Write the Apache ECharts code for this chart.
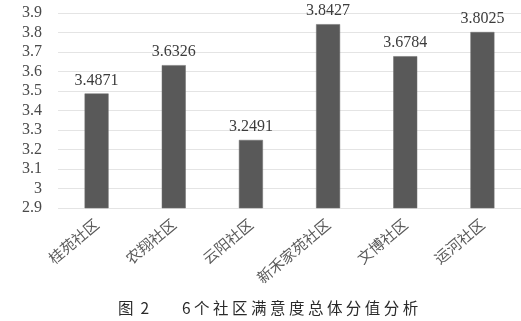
<!DOCTYPE html>
<html><head><meta charset="utf-8">
<script src="https://cdn.jsdelivr.net/npm/echarts@6/dist/echarts.min.js"></script>
<style>html,body{margin:0;padding:0;background:#fff}#c{width:521px;height:321px}</style>
</head><body><div id="c"></div>
<script>
var categories = ['桂苑社区', '农翔社区', '云阳社区', '新禾家苑社区', '文博社区', '运河社区'];
var values = [3.4871, 3.6326, 3.2491, 3.8427, 3.6784, 3.8025];
var yMin = 2.9, yMax = 3.9, yStep = 0.1;
var captionFig = '图  2';
var captionTitle = '6 个 社 区 满 意 度 总 体 分 值 分 析';

var serif = '"Liberation Serif", "Times New Roman", "DejaVu Serif", serif';
var chart = echarts.init(document.getElementById('c'), null, {renderer: 'canvas'});
chart.setOption({
  animation: false,
  backgroundColor: '#fff',
  grid: {left: 58, top: 13, width: 465, height: 195, containLabel: false},
  xAxis: {
    type: 'category', data: categories,
    axisLine: {show: false}, axisTick: {show: false},
    axisLabel: {rotate: 40, interval: 0, margin: 14, color: '#5a5a5a', fontSize: 15,
      fontFamily: '"Noto Sans CJK SC"'}
  },
  yAxis: {
    type: 'value', min: yMin, max: yMax, interval: yStep,
    axisLine: {show: false}, axisTick: {show: false},
    axisLabel: {color: '#4a4a4a', fontSize: 16, margin: 16, fontFamily: serif,
      formatter: function(v){ return String(Math.round(v*10)/10); }},
    splitLine: {lineStyle: {color: '#e4e4e4', width: 1}}
  },
  series: [{
    type: 'bar', data: values, barWidth: 24,
    itemStyle: {color: '#595959', borderColor: '#6e6e6e', borderWidth: 0.5},
    label: {show: true, position: 'top', distance: 5, color: '#3c3c3c', fontSize: 16,
      fontFamily: serif}
  }],
  graphic: [{
    type: 'text', left: 118, top: 300,
    style: {text: captionFig, font: '15.5px "Noto Sans CJK SC"', fill: '#2a2a2a'}
  }, {
    type: 'text', left: 182, top: 300,
    style: {text: captionTitle, font: '15.5px "Noto Sans CJK SC"', fill: '#2a2a2a'}
  }]
});
</script></body></html>
